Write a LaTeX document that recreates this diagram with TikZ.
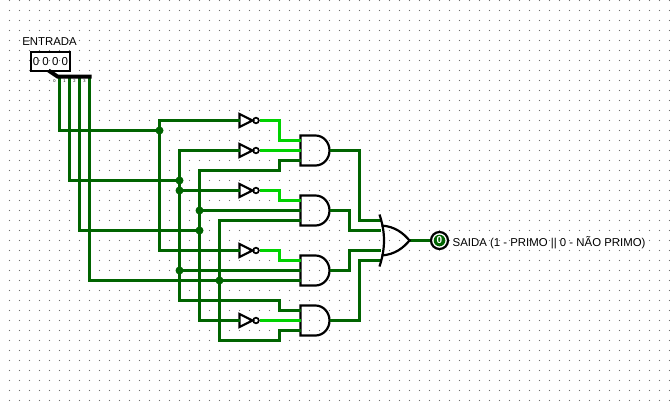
\documentclass[tikz,border=0pt]{standalone}
\usepackage{fontspec}
\setmainfont{Liberation Sans}
\definecolor{fiooff}{RGB}{0,100,0}
\definecolor{fioon}{RGB}{0,210,0}
\tikzset{
  fio/.style={line width=3.4pt, fiooff, line join=miter},
  fioligado/.style={line width=3.4pt, fioon},
  porta/.style={line width=2.2pt, black},
  rotulo/.style={font=\fontsize{11.4}{12}\selectfont, inner sep=0pt, text=black},
  miudo/.style={font=\fontsize{4}{4}\selectfont, inner sep=0pt, text=black},
  pics/porta e/.style={code={
    \coordinate (-a) at (0,-10);
    \coordinate (-b) at (0,0);
    \coordinate (-c) at (0,10);
    \coordinate (-s) at (29,0);
    \draw[porta] (15,-15) -- (0,-15) -- (0,15) -- (15,15) arc[start angle=-90, end angle=90, x radius=14, y radius=-15] -- cycle;
  }},
  pics/inversor/.style={code={
    \coordinate (-e) at (0,0);
    \coordinate (-s) at (20,0);
    \draw[porta] (0,-6.5) -- (13,0) -- (0,6.5) -- cycle;
    \draw[line width=1.7pt] (16.5,0) circle[radius=2.8];
  }}
}
\begin{document}
\begin{tikzpicture}[x=1pt, y=-1pt]
  \useasboundingbox (0,0) rectangle (670,410);
  \fill[white] (0,0) rectangle (670,410);
  % pontos da grade
  \foreach \i in {0,...,66} {
    \foreach \j in {0,...,40} {
      \fill[black!55] (\i*10+9.5,\j*10+0.5) circle[radius=0.55];
    }
  }
  \begin{scope}[shift={(0.5,0.5)}]
  % entrada
  \node[rotulo] (lblent) at (49,41) {ENTRADA};
  \node[draw, line width=2.2pt, minimum width=39pt, minimum height=19pt, inner sep=0pt, font=\fontsize{11.5}{12}\selectfont] (ent) at (50,61) {0 0 0 0};
  \coordinate (e0) at (48,70);
  \coordinate (e1) at (57,76);
  \coordinate (e2) at (91,76);
  \coordinate (a0) at (59,77);
  \coordinate (b0) at (69,77);
  \coordinate (c0) at (79,77);
  \coordinate (d0) at (89,77);
  % portas
  \pic (i1) at (239,120) {inversor};
  \pic (i2) at (239,150) {inversor};
  \pic (i3) at (239,190) {inversor};
  \pic (i4) at (239,250) {inversor};
  \pic (i5) at (239,320) {inversor};
  \pic (e1g) at (300,150) {porta e};
  \pic (e2g) at (300,210) {porta e};
  \pic (e3g) at (300,270) {porta e};
  \pic (e4g) at (300,320) {porta e};
  % barramentos
  \coordinate (ja) at (159,130);
  \coordinate (jb) at (179,180);
  \coordinate (jc) at (199,230);
  \coordinate (jd) at (219,280);
  \coordinate (jb2) at (179,190);
  \coordinate (jb3) at (179,270);
  \coordinate (jc2) at (199,210);
  \coordinate (orA) at (380,220);
  \coordinate (orB) at (380,230);
  \coordinate (orC) at (380,250);
  \coordinate (orD) at (380,260);
  \coordinate (orS) at (409,240);
  \node[circle, draw, line width=2.2pt, minimum size=17pt, inner sep=0pt] (led) at (439,240) {};
  \draw[fio] (a0) |- (ja);
  \draw[fio] (b0) |- (jb);
  \draw[fio] (c0) |- (jc);
  \draw[fio] (d0) |- (e3g-c);
  \draw[fio] (i1-e) -| (159,250) -- (i4-e);
  \draw[fio] (i2-e) -| (179,300) -- (279,300) -- (279,310) -- (e4g-a);
  \draw[fio] (jb2) -- (i3-e);
  \draw[fio] (jb3) -- (e3g-b);
  \draw[fio] (e1g-c) -- (279,160) -- (279,170) -- (199,170) -- (199,320) -- (i5-e);
  \draw[fio] (jc2) -- (e2g-b);
  \draw[fio] (e2g-c) -- (219,220) -- (219,340) -- (279,340) -- (279,330) -- (e4g-c);
  \draw[fioligado] (i1-s) -- (279,120) -- (279,140) -- (e1g-a);
  \draw[fioligado] (i2-s) -- (e1g-b);
  \draw[fioligado] (i3-s) -- (279,190) -- (279,200) -- (e2g-a);
  \draw[fioligado] (i4-s) -- (279,250) -- (279,260) -- (e3g-a);
  \draw[fioligado] (i5-s) -- (e4g-b);
  \draw[fio] (e1g-s) -- (359,150) -- (359,220) -- (orA);
  \draw[fio] (e2g-s) -- (349,210) -- (349,230) -- (orB);
  \draw[fio] (e3g-s) -- (349,270) -- (349,250) -- (orC);
  \draw[fio] (e4g-s) -- (359,320) -- (359,260) -- (orD);
  \draw[fio] (orS) -- (led);
  \foreach \p in {ja,jb,jc,jd,jb2,jb3,jc2}
    \fill[fiooff] (\p) circle[radius=4];
  % porta ou
  \draw[porta] (379,214) .. controls (385,232) and (385,248) .. (379,266);
  \draw[porta] (381,225) .. controls (395,226) and (403,233) .. (orS) .. controls (403,247) and (395,254) .. (381,255);
  % saida
  \fill[fiooff] (led) circle[radius=5.8];
  \node[font=\bfseries\fontsize{10}{10}\selectfont, text=white, inner sep=0pt] (zero) at (led) {0};
  \node[rotulo, anchor=west] (lblsai) at (452,242) {SAIDA (1 - PRIMO || 0 - NÃO PRIMO)};
  % divisor
  \draw[line width=4pt] (e0) -- (e1) -- (e2);
  \node[miudo] (bit0) at (54,80.5) {0};
  \node[miudo] (bit1) at (64,80.5) {1};
  \node[miudo] (bit2) at (74,80.5) {2};
  \node[miudo] (bit3) at (84,80.5) {3};
  \end{scope}
\end{tikzpicture}
\end{document}
